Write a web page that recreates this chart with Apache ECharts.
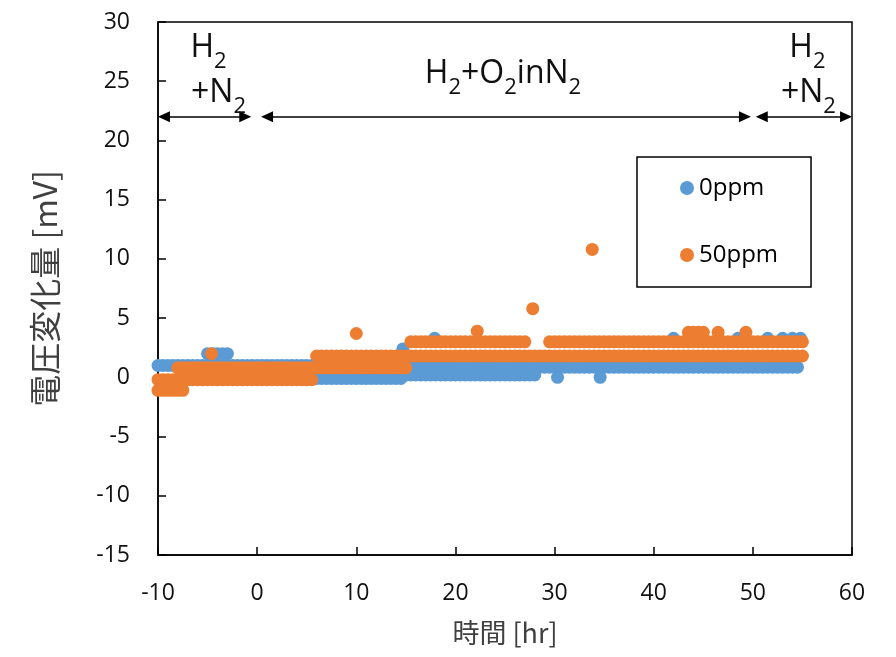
<!DOCTYPE html>
<html>
<head>
<meta charset="utf-8">
<script src="https://cdn.jsdelivr.net/npm/echarts@6/dist/echarts.min.js"></script>
<style>
  html, body { margin: 0; padding: 0; background: #fff; }
  #chart { width: 896px; height: 657px; }
</style>
</head>
<body>
<div id="chart"></div>
<script>
// sample hours at half-hour steps
var hours = [-10,-9.5,-9,-8.5,-8,-7.5,-7,-6.5,-6,-5.5,-5,-4.5,-4,-3.5,-3,-2.5,-2,-1.5,-1,-0.5,
  0,0.5,1,1.5,2,2.5,3,3.5,4,4.5,5,5.5,6,6.5,7,7.5,8,8.5,9,9.5,
  10,10.5,11,11.5,12,12.5,13,13.5,14,14.5,15,15.5,16,16.5,17,17.5,18,18.5,19,19.5,
  20,20.5,21,21.5,22,22.5,23,23.5,24,24.5,25,25.5,26,26.5,27,27.5,28,28.5,29,29.5,
  30,30.5,31,31.5,32,32.5,33,33.5,34,34.5,35,35.5,36,36.5,37,37.5,38,38.5,39,39.5,
  40,40.5,41,41.5,42,42.5,43,43.5,44,44.5,45,45.5,46,46.5,47,47.5,48,48.5,49,49.5,
  50,50.5,51,51.5,52,52.5,53,53.5,54,54.5,55];

// 0ppm main band (-10..5.5 / 6..14.5 / 15..54.5 / 55)
var ppm0Main = [1,1,1,1,1,1,1,1,1,1,1,1,1,1,1,1,1,1,1,1,1,1,1,1,1,1,1,1,1,1,1,1,
  -0.1,-0.1,-0.1,-0.1,-0.1,-0.1,-0.1,-0.1,-0.1,-0.1,-0.1,-0.1,-0.1,-0.1,-0.1,-0.1,-0.1,-0.1,
  0.85,0.85,0.85,0.85,0.85,0.85,0.85,0.85,0.85,0.85,0.85,0.85,0.85,0.85,0.85,0.85,0.85,0.85,0.85,0.85,
  0.85,0.85,0.85,0.85,0.85,0.85,0.85,0.85,0.85,0.85,0.85,0.85,0.85,0.85,0.85,0.85,0.85,0.85,0.85,0.85,
  0.85,0.85,0.85,0.85,0.85,0.85,0.85,0.85,0.85,0.85,0.85,0.85,0.85,0.85,0.85,0.85,0.85,0.85,0.85,0.85,
  0.85,0.85,0.85,0.85,0.85,0.85,0.85,0.85,0.85,0.85,0.85,0.85,0.85,0.85,0.85,0.85,0.85,0.85,0.85,0.85,
  null];
// 0ppm points off the main band
var ppm0ExtraHours = [-5,-4.5,-4,-3.5,-3,
  15,15.5,16,16.5,17,17.5,18,18.5,19,19.5,20,20.5,21,21.5,22,22.5,23,23.5,24,24.5,25,25.5,26,26.5,27,27.5,28,
  14.7,17.9,30.3,34.6,42,48.5,51.5,53,54,54.8];
var ppm0ExtraValues = [2,2,2,2,2,
  0.2,0.2,0.2,0.2,0.2,0.2,0.2,0.2,0.2,0.2,0.2,0.2,0.2,0.2,0.2,0.2,0.2,0.2,0.2,0.2,0.2,0.2,0.2,0.2,0.2,0.2,0.2,
  2.4,3.3,0,0,3.3,3.3,3.3,3.3,3.3,3.3];

// 50ppm upper band (-10..-8.5 / -8..5.5 / 6..15 / 15.5..27 / 27.5..29 / 29.5..55)
var ppm50Upper = [null,null,null,null,
  0.8,0.8,0.8,0.8,0.8,0.8,0.8,0.8,0.8,0.8,0.8,0.8,0.8,0.8,0.8,0.8,0.8,0.8,0.8,0.8,0.8,0.8,0.8,0.8,0.8,0.8,0.8,0.8,
  1.8,1.8,1.8,1.8,1.8,1.8,1.8,1.8,1.8,1.8,1.8,1.8,1.8,1.8,1.8,1.8,1.8,1.8,1.8,
  3,3,3,3,3,3,3,3,3,3,3,3,3,3,3,3,3,3,3,3,3,3,3,3,
  null,null,null,null,
  3,3,3,3,3,3,3,3,3,3,3,3,3,3,3,3,3,3,3,3,3,3,3,3,3,3,3,3,3,3,3,3,3,3,3,3,3,3,3,3,3,3,3,3,3,3,3,3,3,3,3,3];
// 50ppm lower band (-10..5.5 / 6..15 / 15.5..55)
var ppm50Lower = [-0.2,-0.2,-0.2,-0.2,-0.2,-0.2,-0.2,-0.2,-0.2,-0.2,-0.2,-0.2,-0.2,-0.2,-0.2,-0.2,
  -0.2,-0.2,-0.2,-0.2,-0.2,-0.2,-0.2,-0.2,-0.2,-0.2,-0.2,-0.2,-0.2,-0.2,-0.2,-0.2,
  0.8,0.8,0.8,0.8,0.8,0.8,0.8,0.8,0.8,0.8,0.8,0.8,0.8,0.8,0.8,0.8,0.8,0.8,0.8,
  1.8,1.8,1.8,1.8,1.8,1.8,1.8,1.8,1.8,1.8,1.8,1.8,1.8,1.8,1.8,1.8,1.8,1.8,1.8,1.8,
  1.8,1.8,1.8,1.8,1.8,1.8,1.8,1.8,1.8,1.8,1.8,1.8,1.8,1.8,1.8,1.8,1.8,1.8,1.8,1.8,
  1.8,1.8,1.8,1.8,1.8,1.8,1.8,1.8,1.8,1.8,1.8,1.8,1.8,1.8,1.8,1.8,1.8,1.8,1.8,1.8,
  1.8,1.8,1.8,1.8,1.8,1.8,1.8,1.8,1.8,1.8,1.8,1.8,1.8,1.8,1.8,1.8,1.8,1.8,1.8,1.8];
var ppm50ExtraHours = [-10,-9.5,-9,-8.5,-8,-7.5,-4.6,10,22.2,27.8,33.8,43.5,44,44.5,45,46.5,49.3];
var ppm50ExtraValues = [-1.1,-1.1,-1.1,-1.1,-1.1,-1.1,2,3.7,3.9,5.8,10.8,3.8,3.8,3.8,3.8,3.8,3.8];

var xTicks = [-10, 60, 10];
var yTicks = [-15, 30, 5];

var font = '"Open Sans", "Noto Sans", sans-serif';
var cjkFont = '"Noto Sans CJK JP", "Noto Sans", sans-serif';

function pairs(hs, vs) {
  var out = [];
  for (var i = 0; i < hs.length; i++) {
    if (vs[i] !== null) out.push([hs[i], vs[i]]);
  }
  return out;
}

var blueData = pairs(hours, ppm0Main).concat(pairs(ppm0ExtraHours, ppm0ExtraValues));
var orangeData = pairs(hours, ppm50Lower).concat(pairs(hours, ppm50Upper)).concat(pairs(ppm50ExtraHours, ppm50ExtraValues));

var gasRich = {
  m: { fontSize: 32, fontFamily: font, color: '#111', lineHeight: 36, verticalAlign: 'bottom' },
  s: { fontSize: 22, fontFamily: font, color: '#111', lineHeight: 22, verticalAlign: 'bottom', padding: [0, 0, -9, 0] }
};

function note(x, y, text) {
  return { coord: [x, y], label: { formatter: text } };
}

var chart = echarts.init(document.getElementById('chart'));
chart.setOption({
  animation: false,
  grid: { left: 158, right: 44, top: 22, bottom: 102, show: true, borderColor: '#000', borderWidth: 1.5 },
  legend: {
    data: ['0ppm', '50ppm'],
    orient: 'vertical',
    left: 637, top: 157,
    padding: [19, 33, 20, 43],
    itemWidth: 14, itemHeight: 14, itemGap: 43,
    icon: 'circle',
    borderColor: '#000', borderWidth: 1.5,
    backgroundColor: '#fff',
    textStyle: { fontSize: 24, fontFamily: font, color: '#000' }
  },
  xAxis: {
    type: 'value', min: xTicks[0], max: xTicks[1], interval: xTicks[2],
    name: '時間 [hr]', nameLocation: 'middle', nameGap: 64,
    nameTextStyle: { fontSize: 27, fontFamily: cjkFont, color: '#404040' },
    axisLine: { onZero: false, lineStyle: { color: '#000', width: 1.5 } },
    axisTick: { inside: true, length: 8, lineStyle: { color: '#000', width: 1.5 } },
    axisLabel: { fontSize: 23, fontFamily: font, color: '#111', margin: 27 },
    splitLine: { show: false }
  },
  yAxis: {
    type: 'value', min: yTicks[0], max: yTicks[1], interval: yTicks[2],
    name: '電圧変化量 [mV]', nameLocation: 'middle', nameGap: 97,
    nameTextStyle: { fontSize: 32, fontFamily: cjkFont, color: '#404040' },
    axisLine: { onZero: false, lineStyle: { color: '#000', width: 1.5 } },
    axisTick: { inside: true, length: 8, lineStyle: { color: '#000', width: 1.5 } },
    axisLabel: { fontSize: 23, fontFamily: font, color: '#111', margin: 28 },
    splitLine: { show: false }
  },
  series: [
    {
      name: '0ppm', type: 'scatter', symbolSize: 13,
      itemStyle: { color: '#5B9BD5', opacity: 1 },
      data: blueData
    },
    {
      name: '50ppm', type: 'scatter', symbolSize: 13,
      itemStyle: { color: '#ED7D31', opacity: 1 },
      data: orangeData
    },
    {
      name: 'notes', type: 'scatter', data: [], silent: true,
      markLine: {
        silent: true,
        symbol: ['triangle', 'triangle'],
        symbolSize: [11, 12],
        label: { show: false },
        lineStyle: { color: '#000', width: 1.5, type: 'solid' },
        data: [
          [{ coord: [-9.4, 22] }, { coord: [-1.2, 22] }],
          [{ coord: [1.0, 22] }, { coord: [49.2, 22] }],
          [{ coord: [50.9, 22] }, { coord: [59.4, 22] }]
        ]
      },
      markPoint: {
        silent: true,
        symbol: 'rect', symbolSize: 1,
        itemStyle: { color: 'rgba(0,0,0,0)' },
        label: { show: true, position: 'inside', rich: gasRich },
        data: [
          note(-4.9, 28, '{m|H}{s|2}'),
          note(-3.9, 24.2, '{m|+N}{s|2}'),
          note(24.8, 25.8, '{m|H}{s|2}{m|+O}{s|2}{m|inN}{s|2}'),
          note(55.5, 28, '{m|H}{s|2}'),
          note(55.6, 24.2, '{m|+N}{s|2}')
        ]
      }
    }
  ]
});
</script>
</body>
</html>
